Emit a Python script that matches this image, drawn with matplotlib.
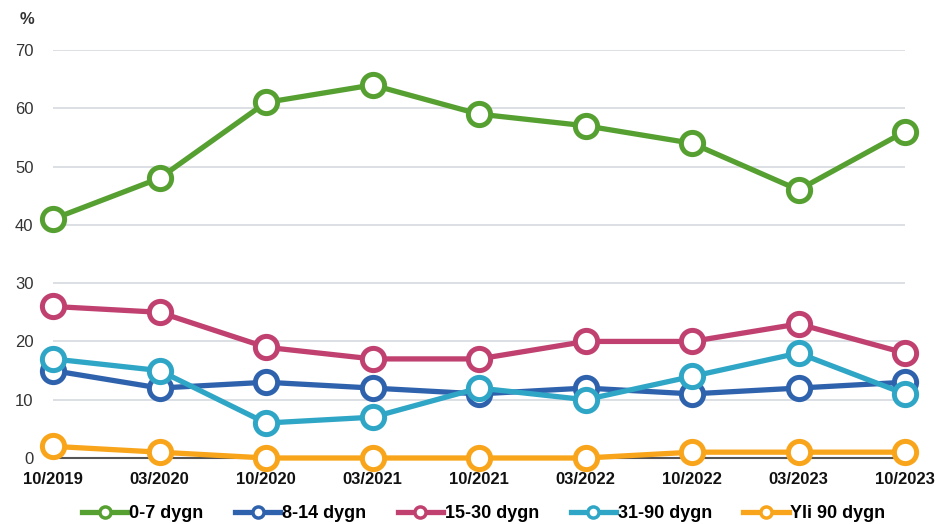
import matplotlib
matplotlib.use("Agg")
import matplotlib.pyplot as plt
from matplotlib.lines import Line2D

plt.rcParams['font.family'] = ['Liberation Sans', 'DejaVu Sans']

periods = ["10/2019", "03/2020", "10/2020", "03/2021", "10/2021",
           "03/2022", "10/2022", "03/2023", "10/2023"]
d0_7 = [41, 48, 61, 64, 59, 57, 54, 46, 56]
d8_14 = [15, 12, 13, 12, 11, 12, 11, 12, 13]
d15_30 = [26, 25, 19, 17, 17, 20, 20, 23, 18]
d31_90 = [17, 15, 6, 7, 12, 10, 14, 18, 11]
d90 = [2, 1, 0, 0, 0, 0, 1, 1, 1]
series_names = ["0-7 dygn", "8-14 dygn", "15-30 dygn", "31-90 dygn", "Yli 90 dygn"]
colors = ["#56a031", "#2f62ad", "#c0416f", "#2fa6c6", "#f9a51b"]
yticks = [0, 10, 20, 30, 40, 50, 60, 70]

fig = plt.figure(figsize=(9.38, 5.24), dpi=100)
ax = fig.add_axes([53/938, 1-458/524, (905-53)/938, (458-50)/524])

x = list(range(len(periods)))
for vals, c, name in zip([d0_7, d8_14, d15_30, d31_90, d90], colors, series_names):
    ax.plot(x, vals, color=c, lw=3.8, marker='o', markersize=16,
            markerfacecolor='white', markeredgecolor=c, markeredgewidth=3.6,
            clip_on=False, zorder=3, label=name)

ax.set_xlim(0, len(periods) - 1)
ax.set_ylim(0, 70)
ax.set_yticks(yticks)
ax.set_yticklabels([str(v) for v in yticks], fontsize=12, color='#333333')
ax.set_xticks(x)
ax.set_xticklabels(periods, fontsize=12, fontweight='bold', color='#111111')
ax.grid(axis='y', color='#d9dce1', lw=1.3, zorder=0)
ax.set_axisbelow(True)
for s in ['top', 'right', 'left']:
    ax.spines[s].set_visible(False)
ax.spines['bottom'].set_color('#555555')
ax.spines['bottom'].set_linewidth(1.5)
ax.spines['bottom'].set_zorder(2)
ax.tick_params(axis='both', length=0)
ax.tick_params(axis='y', pad=14)
ax.tick_params(axis='x', pad=10)

fig.text(27/938, 1-20/524, "%", fontsize=12, fontweight='bold', color='#333333',
         ha='center', va='center')

handles = [Line2D([0], [0], color=c, lw=3.8, marker='o', markersize=8,
                  markerfacecolor='white', markeredgecolor=c, markeredgewidth=2.5)
           for c in colors]
fig.legend(handles, series_names, loc='center', bbox_to_anchor=(484/938, 1-514/524),
           ncol=5, frameon=False, handlelength=2.5, handletextpad=0.1,
           columnspacing=1.75, prop={'weight': 'bold', 'size': 13})

fig.savefig("out.png", dpi=100)
